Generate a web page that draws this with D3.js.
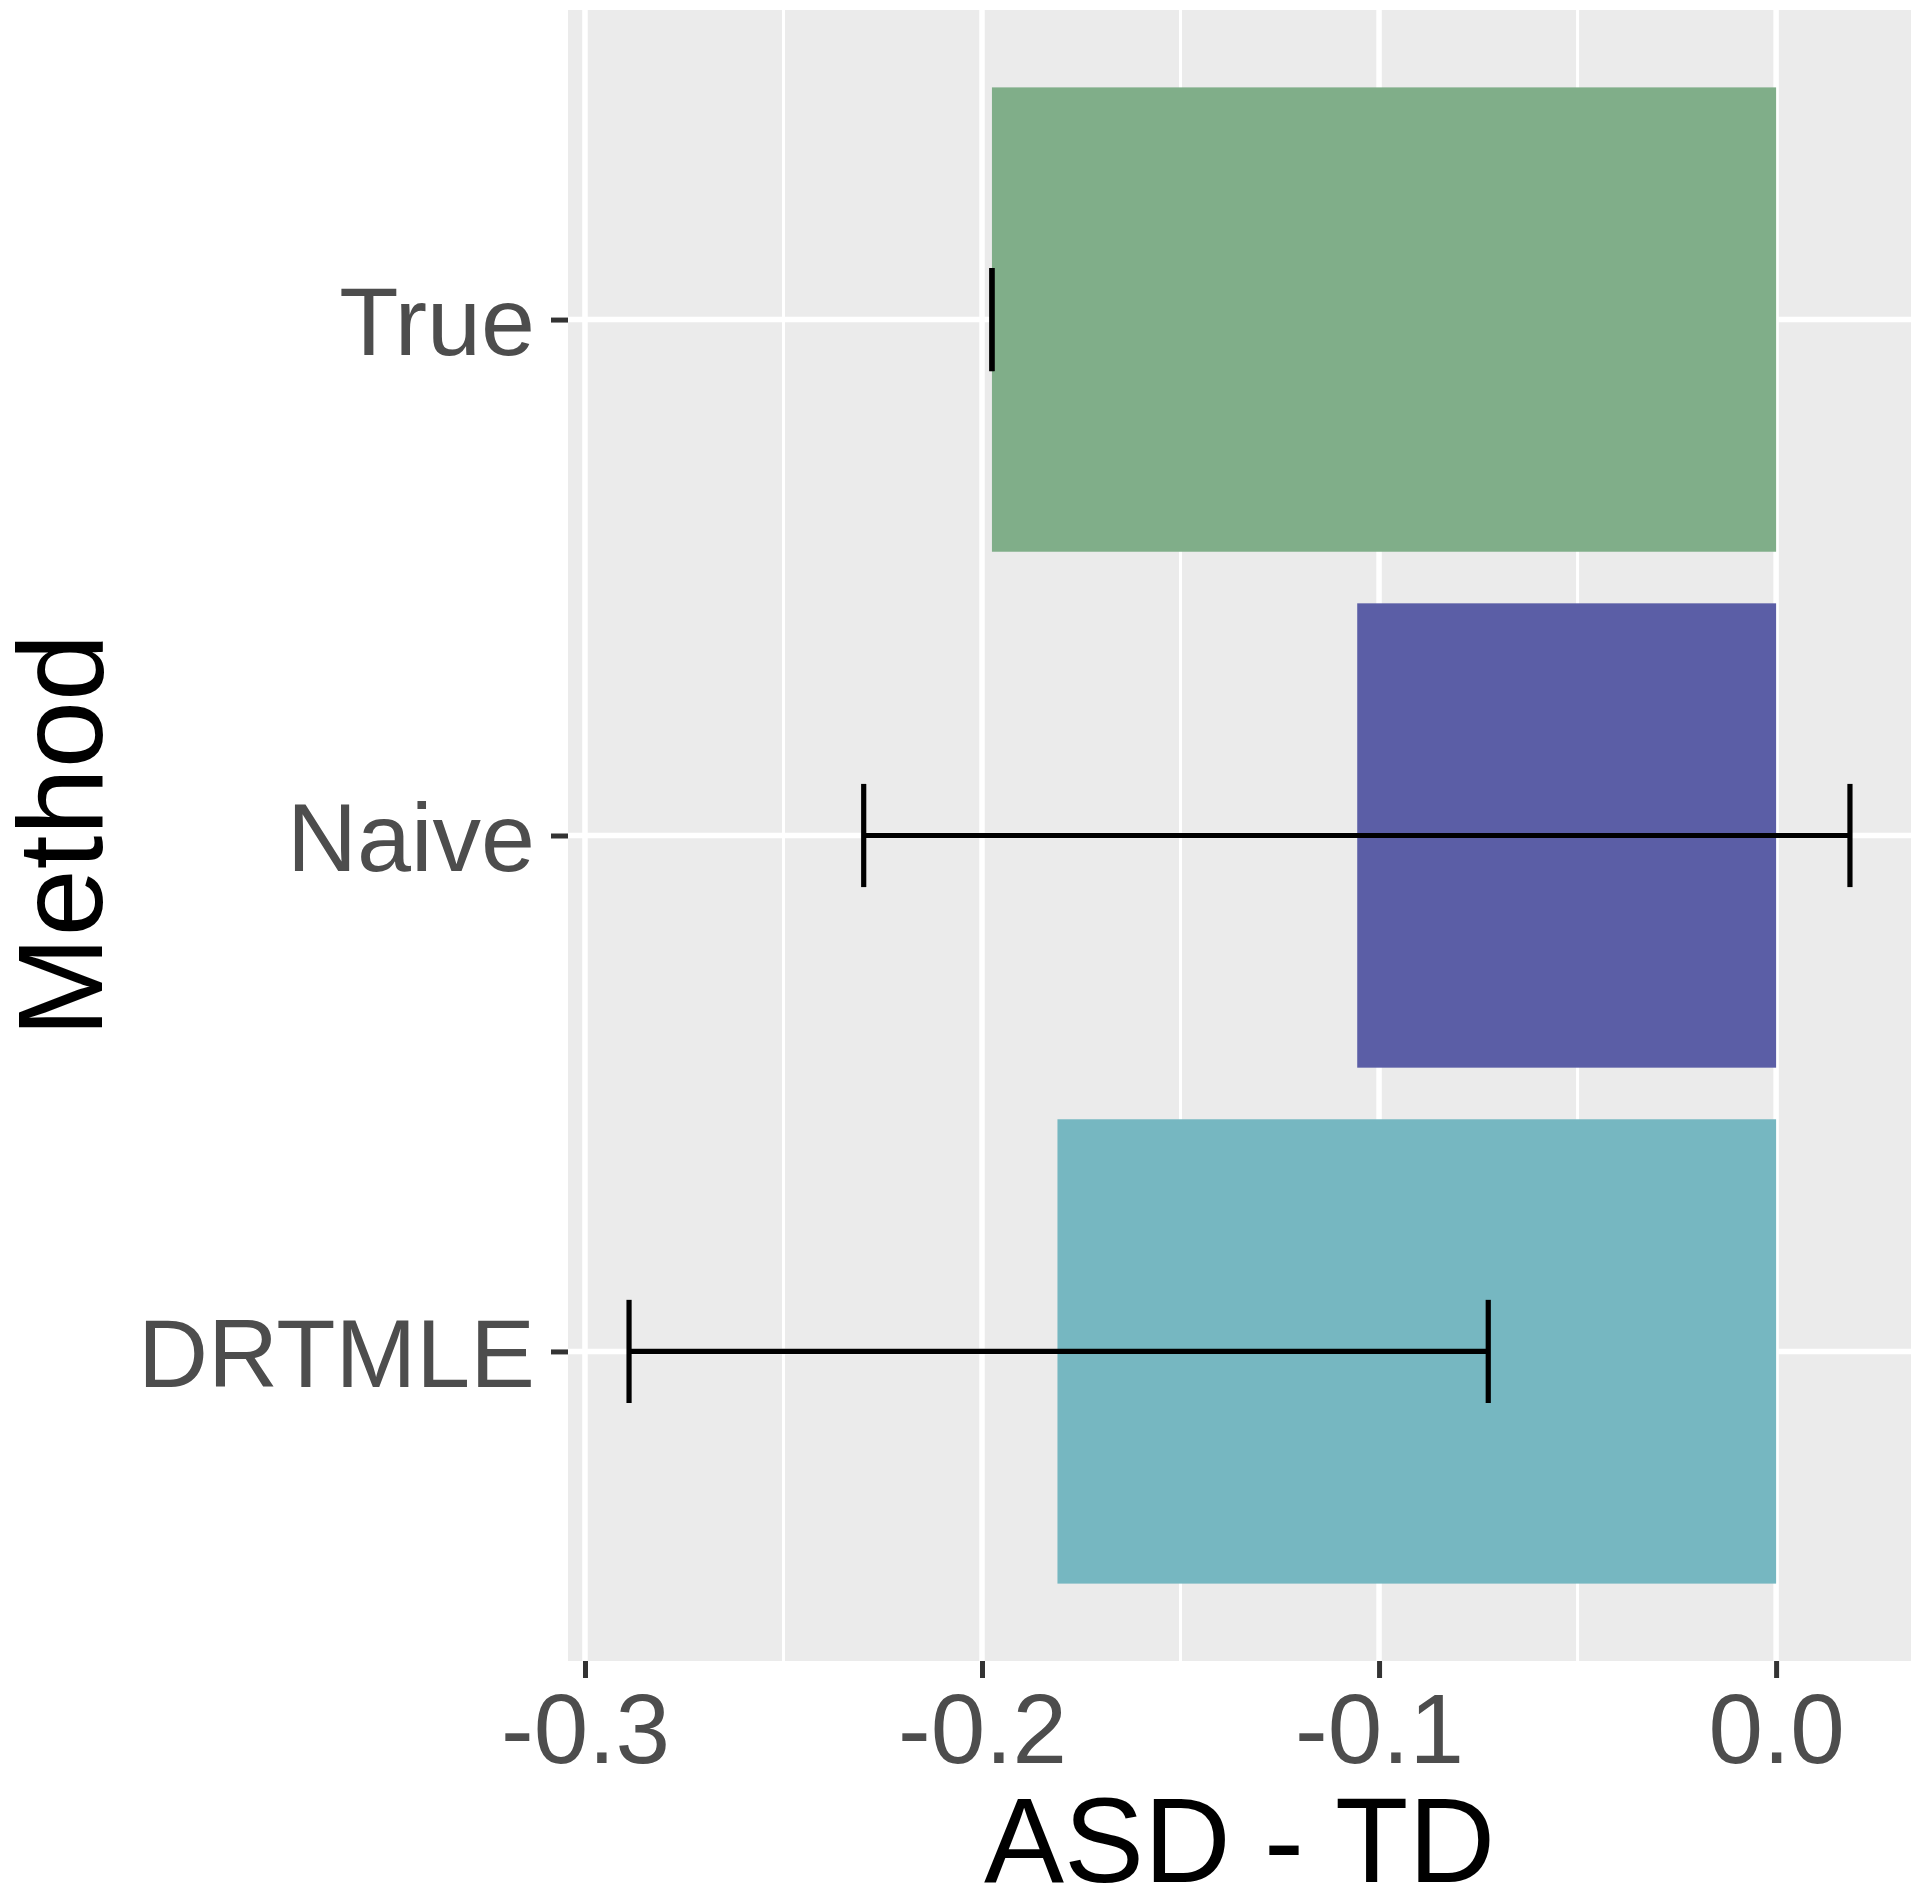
<!DOCTYPE html>
<html>
<head>
<meta charset="utf-8">
<script src="https://cdn.jsdelivr.net/npm/d3@7"></script>
<style>
  html, body { margin: 0; padding: 0; background: #ffffff; }
  svg { display: block; }
</style>
</head>
<body>
<svg id="chart" width="1920" height="1899"></svg>
<script>
// ---- data ----
const methods = ["True", "Naive", "DRTMLE"];
const estimates = [-0.1975, -0.1055, -0.1810];
const lowerCI = [-0.1975, -0.2298, -0.2889];
const upperCI = [-0.1975, 0.0186, -0.0725];
const barColors = ["#80AE89", "#5B5EA6", "#76B7C1"];
const xTicks = [-0.3, -0.2, -0.1, 0.0];
const xMinorTicks = [-0.25, -0.15, -0.05];
const xTitle = "ASD - TD";
const yTitle = "Method";

// ---- layout ----
const W = 1920, H = 1899;
const panel = { left: 568, right: 1911, top: 10, bottom: 1661 };

const svg = d3.select("#chart");

// x domain with ggplot-like 5% expansion
const allVals = estimates.concat(lowerCI, upperCI, [0]);
const xmin = d3.min(allVals), xmax = d3.max(allVals);
const pad = (xmax - xmin) * 0.05;
const x = d3.scaleLinear()
  .domain([xmin - pad, xmax + pad])
  .range([panel.left, panel.right]);

// discrete y with 0.6 unit expansion each side
const unit = (panel.bottom - panel.top) / (methods.length - 1 + 1.2);
const y = d3.scalePoint()
  .domain(methods)
  .range([panel.top + 0.6 * unit, panel.bottom - 0.6 * unit]);

// panel background
svg.append("rect")
  .attr("x", panel.left).attr("y", panel.top)
  .attr("width", panel.right - panel.left)
  .attr("height", panel.bottom - panel.top)
  .attr("fill", "#EBEBEB");

const grid = svg.append("g");
grid.selectAll("line.minor").data(xMinorTicks).enter().append("line")
  .attr("x1", d => x(d)).attr("x2", d => x(d))
  .attr("y1", panel.top).attr("y2", panel.bottom)
  .attr("stroke", "#ffffff").attr("stroke-width", 3);
grid.selectAll("line.majx").data(xTicks).enter().append("line")
  .attr("x1", d => x(d)).attr("x2", d => x(d))
  .attr("y1", panel.top).attr("y2", panel.bottom)
  .attr("stroke", "#ffffff").attr("stroke-width", 5.5);
grid.selectAll("line.majy").data(methods).enter().append("line")
  .attr("x1", panel.left).attr("x2", panel.right)
  .attr("y1", d => y(d)).attr("y2", d => y(d))
  .attr("stroke", "#ffffff").attr("stroke-width", 5.5);

// bars
const barH = 0.9 * unit;
svg.append("g").selectAll("rect").data(methods).enter().append("rect")
  .attr("x", (d, i) => Math.min(x(estimates[i]), x(0)))
  .attr("width", (d, i) => Math.abs(x(0) - x(estimates[i])))
  .attr("y", d => y(d) - barH / 2)
  .attr("height", barH)
  .attr("fill", (d, i) => barColors[i]);

// error bars
const capH = 0.2 * unit;
const eb = svg.append("g").attr("stroke", "#000000").attr("stroke-width", 5.2).attr("fill", "none");
methods.forEach((m, i) => {
  const cy = y(m);
  const x0 = x(lowerCI[i]), x1 = x(upperCI[i]);
  eb.append("line").attr("x1", x0).attr("x2", x1).attr("y1", cy).attr("y2", cy);
  eb.append("line").attr("x1", x0).attr("x2", x0).attr("y1", cy - capH / 2).attr("y2", cy + capH / 2);
  eb.append("line").attr("x1", x1).attr("x2", x1).attr("y1", cy - capH / 2).attr("y2", cy + capH / 2);
});

// x axis
const xAxis = d3.axisBottom(x).tickValues(xTicks).tickFormat(d3.format(".1f")).tickSize(17).tickPadding(14);
const gx = svg.append("g").attr("transform", `translate(0,${panel.bottom})`).call(xAxis);
gx.select(".domain").remove();
gx.selectAll(".tick line").attr("stroke", "#333333").attr("stroke-width", 5);
gx.selectAll(".tick text")
  .attr("fill", "#4D4D4D")
  .attr("font-family", "'Liberation Sans', Arial, sans-serif")
  .attr("font-size", 98)
  .attr("dy", null)
  .attr("y", 102)
  .text(d => d3.format(".1f")(d).replace("−", "-"));

// y axis
const yAxis = d3.axisLeft(y).tickSize(17).tickPadding(14);
const gy = svg.append("g").attr("transform", `translate(${panel.left},0)`).call(yAxis);
gy.select(".domain").remove();
gy.selectAll(".tick line").attr("stroke", "#333333").attr("stroke-width", 5);
gy.selectAll(".tick text")
  .attr("fill", "#4D4D4D")
  .attr("font-family", "'Liberation Sans', Arial, sans-serif")
  .attr("font-size", 97)
  .attr("x", -33)
  .attr("dy", "0.36em");

// axis titles
svg.append("text")
  .attr("x", (panel.left + panel.right) / 2)
  .attr("y", 1882)
  .attr("text-anchor", "middle")
  .attr("font-family", "'Liberation Sans', Arial, sans-serif")
  .attr("font-size", 120)
  .attr("fill", "#000000")
  .text(xTitle);

svg.append("text")
  .attr("transform", `translate(102,${(panel.top + panel.bottom) / 2}) rotate(-90)`)
  .attr("text-anchor", "middle")
  .attr("font-family", "'Liberation Sans', Arial, sans-serif")
  .attr("font-size", 121)
  .attr("fill", "#000000")
  .text(yTitle);
</script>
</body>
</html>
